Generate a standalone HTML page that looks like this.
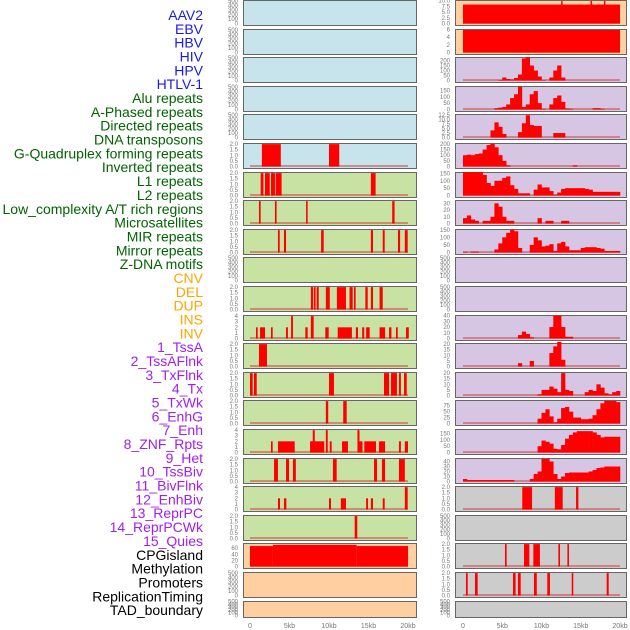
<!DOCTYPE html>
<html><head><meta charset="utf-8"><style>
body{margin:0;background:#fff;}
svg{display:block;font-family:"Liberation Sans",sans-serif;}
</style></head><body>
<svg id="chart" width="630" height="630" viewBox="0 0 630 630" xmlns="http://www.w3.org/2000/svg"></svg>
<script>
// ---------- data ----------
const labelNames = ["AAV2","EBV","HBV","HIV","HPV","HTLV-1","Alu repeats","A-Phased repeats","Directed repeats","DNA transposons","G-Quadruplex forming repeats","Inverted repeats","L1 repeats","L2 repeats","Low_complexity A/T rich regions","Microsatellites","MIR repeats","Mirror repeats","Z-DNA motifs","CNV","DEL","DUP","INS","INV","1_TssA","2_TssAFlnk","3_TxFlnk","4_Tx","5_TxWk","6_EnhG","7_Enh","8_ZNF_Rpts","9_Het","10_TssBiv","11_BivFlnk","12_EnhBiv","13_ReprPC","14_ReprPCWk","15_Quies","CPGisland","Methylation","Promoters","ReplicationTiming","TAD_boundary"];
const labelGroups = [6,13,5,15,5];
const xTickLabels = ["0","5kb","10kb","15kb","20kb"];
const xTickValues = [0,5,10,15,20];
const ticks500 = [0,100,200,300,400,500];
const ticks2 = [0,0.5,1,1.5,2];
const ticks4 = [0,1,2,3,4];

// left panels: segments [startKb, endKb, value]
const L5 = [[1.5,3.9,2],[10.0,11.3,2]];
const L6 = [[1.35,1.7,2],[1.9,2.5,2],[2.66,3.16,2],[3.25,4.0,2],[15.3,15.9,2]];
const L7 = [[1.14,1.35,2],[3.16,3.37,2],[7.1,7.3,2],[18.0,18.3,2]];
const L8 = [[3.54,3.76,2],[4.3,4.56,2],[9.0,9.33,2],[15.3,15.57,2],[16.8,17.05,2],[18.73,19.0,2],[19.6,19.96,2]];
const L10 = [[7.7,8.0,2],[8.1,8.3,2],[8.44,8.7,2],[9.6,10.1,2],[11.0,12.15,2],[12.6,13.0,2],[13.16,13.37,2],[14.6,14.9,2],[15.3,15.57,2],[16.4,16.8,2]];
const L11 = [[0.76,0.97,2],[1.27,1.9,2],[2.66,2.87,2],[4.56,4.8,2],[5.2,5.44,4],[7.0,7.3,2],[7.7,8.06,4],[9.53,9.96,2],[11.1,12.9,2],[13.4,13.67,2],[14.2,14.46,2],[14.7,15.15,2],[16.4,17.1,2],[17.6,17.9,2],[18.48,18.7,2],[19.75,20.1,2]];
const L12 = [[1.14,2.15,2]];
const L13 = [[0,0.34,2],[0.5,0.85,2],[10.0,10.63,2],[16.96,17.6,2],[17.85,18.6,2],[18.86,19.1,2],[19.5,19.84,2]];
const L14 = [[9.6,9.9,2],[11.8,12.24,2]];
const L15 = [[2.66,2.87,2],[3.54,5.66,2],[7.6,9.4,2],[7.94,8.2,4],[9.6,9.84,4],[10.1,10.34,2],[11.65,12.4,2],[13.6,13.86,4],[13.86,14.24,2],[14.47,15.95,2],[16.33,17.1,2],[18.86,19.1,2],[19.6,20.0,2]];
const L16 = [[3.04,3.54,2],[4.56,4.94,2],[5.44,5.8,2],[10.5,10.97,2],[15.7,16.08,2],[16.7,17.1,2],[18.86,19.6,2]];
const L17 = [[3.54,3.8,2],[4.3,4.6,2],[10.0,10.25,2],[11.5,12.15,2],[14.7,14.94,2],[15.3,15.57,2],[16.8,17.05,2],[19.6,19.96,4]];
const L18 = [[13.25,13.58,2]];
const L19 = [[0,2.9,67],[2.9,13.5,71],[13.5,20,67]];

// right panels: 0.5kb histogram bins (40 bins) or segments
const R0 = [[0,20,8.3],[12.5,12.65,10],[16.25,16.4,10],[17.95,18.1,10]];
const R1 = [[0,20,6]];
const R2 = [0,0,0,0,0,0,0,0,0,5,30,15,10,25,60,220,230,150,100,40,5,0,30,100,150,30,0,0,0,0,0,0,0,0,0,0,0,0,0,0];
const R3 = [0,0,0,0,0,0,0,0,10,15,20,40,90,120,180,20,40,120,145,50,5,0,40,90,110,60,8,5,0,0,0,0,0,10,10,5,0,0,0,0];
const R4 = [0,0,0,0,0,0,0,4,8.5,6,2,0,0,0,3,8,12.5,7,6.5,6.5,0,0,0,2.5,2.5,2.5,0,0,0,0,0,0,0,0,0,0,0,0,0,0];
const R5 = [100,105,100,110,115,150,190,200,170,100,50,10,0,0,0,0,0,0,0,0,0,0,0,0,0,0,0,0,10,0,0,0,0,0,0,0,0,0,0,0];
const R6 = [160,160,160,160,160,140,85,65,100,100,120,130,70,45,15,15,15,0,40,75,55,55,30,5,20,45,50,50,50,50,50,45,40,25,25,25,25,25,25,25];
const R7 = [8,12,6,4,0,4,4,10,30,25,10,4,4,0,0,0,0,0,0,8,0,4,4,0,0,4,4,0,0,0,0,0,0,0,0,0,0,0,0,0];
const R8 = [4,0,5,5,0,0,0,0,20,60,100,130,150,140,30,0,0,50,100,80,40,45,55,10,60,70,40,15,15,15,30,35,35,35,30,25,10,10,10,10];
const R11 = [0,0,0,0,0,0,0,0,0,0,0,0,0,0,6,12,8,2,0,0,0,0,20,40,40,20,3,3,0,0,0,0,0,0,0,0,0,0,0,0];
const R12 = [0,0,0,0,0,0,0,0,0,0,0,0,0,0,3,0,0,5,0,0,0,0,12,18,22,6,0,0,0,0,0,0,0,0,0,0,0,0,0,0];
const R13 = [0,0,0,0,0,0,0,0,0,0,0,0,0,0,0,0,0,0,0,1,5,5,8,6,3,20,5,4,0,0,0,3,5,4,10,7,2,1,3,4];
const R14 = [0,0,0,0,0,0,0,0,0,0,0,0,0,0,0,0,0,0,0,20,45,60,30,5,20,65,70,50,25,25,18,18,20,35,60,85,95,95,95,90];
const R15 = [0,0,0,0,0,0,0,0,0,0,0,0,0,0,0,0,0,0,0,50,95,85,70,30,25,60,110,140,160,170,170,170,170,160,140,120,125,125,125,125];
const R16 = [5,3,3,3,3,3,3,3,3,3,3,3,3,0,0,0,0,5,15,20,45,45,40,15,5,10,17,18,18,18,18,18,20,23,27,28,30,30,30,30];
const R17 = [[7.55,8.8,2],[11.7,12.7,2],[14.4,14.7,2]];
const R19 = [[5.35,5.56,2],[7.77,8.45,2],[8.96,9.8,2],[12.15,12.36,2],[13.3,13.5,2]];
const R20 = [[0.38,0.6,2],[1.53,1.87,2],[6.37,6.7,2],[7.0,7.35,2],[9.04,9.4,2],[10.74,11.08,2],[13.85,14.05,2],[18.3,18.56,2]];

// ---------- layout ----------
const BLUE="#c7e4ec", GREEN="#c8e2a3", ORANGE="#ffcf9f", LAV="#d6c6e3", GRAY="#cccccc";
const E = null;
const leftPanels = [
 [BLUE,E,ticks500,520],[BLUE,E,ticks500,520],[BLUE,E,ticks500,520],[BLUE,E,ticks500,520],[BLUE,E,ticks500,520],
 [BLUE,L5,ticks2,2.1],[GREEN,L6,ticks2,2.1],[GREEN,L7,ticks2,2.1],[GREEN,L8,ticks2,2.1],[GREEN,E,ticks500,520],
 [GREEN,L10,ticks2,2.1],[GREEN,L11,ticks4,4.2],[GREEN,L12,ticks2,2.1],[GREEN,L13,ticks2,2.1],[GREEN,L14,ticks2,2.1],
 [GREEN,L15,ticks4,4.2],[GREEN,L16,ticks2,2.1],[GREEN,L17,ticks4,4.2],[GREEN,L18,ticks2,2.1],[ORANGE,L19,[0,20,40,60],77],
 [ORANGE,E,ticks500,520],[ORANGE,E,ticks500,520]
];
const rightPanels = [
 [ORANGE,R0,[0,2.5,5,7.5,10],10.3,1],[ORANGE,R1,[0,2,4,6],6.1,1],
 [LAV,R2,[0,50,100,150,200],235,0],[LAV,R3,[0,50,100,150],185,0],[LAV,R4,[0,2.5,5,7.5,10,12.5],13.2,0],
 [LAV,R5,[0,50,100,150,200],208,0],[LAV,R6,[0,50,100,150],160,0],[LAV,R7,[0,10,20,30],35,0],
 [LAV,R8,[0,50,100,150],155,0],[LAV,E,ticks500,520,0],[LAV,E,ticks500,520,0],
 [LAV,R11,[0,10,20,30,40],41,0],[LAV,R12,[0,5,10,15,20],21,0],[LAV,R13,[0,5,10,15,20],21,0],
 [LAV,R14,[0,25,50,75],99,0],[LAV,R15,[0,50,100,150],187,0],[LAV,R16,[0,10,20,30,40],47,0],
 [GRAY,R17,ticks2,2.1,1],[GRAY,E,ticks500,520,0],[GRAY,R19,ticks2,2.1,1],[GRAY,R20,ticks2,2.1,1],[GRAY,E,ticks500,520,0]
];
const NS="http://www.w3.org/2000/svg";
const svg=document.getElementById('chart');
function mk(tag,attrs,parent){const e=document.createElementNS(NS,tag);for(const k in attrs)e.setAttribute(k,attrs[k]);(parent||svg).appendChild(e);return e;}
const xL = kb => 250 + kb*7.9;
const xR = kb => 463 + kb*7.85;
const rowY = i => Math.round(i*28.6);
const rowH = i => i===21 ? 16 : 25;
function fmt(t,ticks){const dec=ticks.some(v=>v%1!==0)?1:0;return dec?t.toFixed(1):String(t);}

// labels
const groupColors=["#1a1ae6","#006400","#ffa500","#a020f0","#000000"];
let gi=0,cnt=0;
labelNames.forEach((n,i)=>{
  while(cnt>=labelGroups[gi]){gi++;cnt=0;}
  cnt++;
  const t=mk('text',{x:203,y:15+i*13.84+5,'text-anchor':'end','font-size':14,fill:groupColors[gi]});
  t.textContent=n;
  
  
});

function drawPanel(i,cfg,side){
  const [bg,data,ticks,smax]=cfg;
  const x0 = side==='left'?243:455, x1 = side==='left'?416:626;
  const xs = side==='left'?xL:xR;
  const y0=rowY(i), h=rowH(i), yb=y0+h-1.5;
  const ys = v => yb - v/smax*(h-1.5);
  const g=mk('g',{});
  
  
  const bgR=mk('rect',{x:x0+0.5,y:y0+0.5,width:x1-x0,height:h,fill:bg,stroke:'#666','stroke-width':1},g);
  
  
  // ticks
  const tx = side==='left'?238:450;
  ticks.forEach(t=>{
    const tt=mk('text',{x:tx,y:ys(t)+2,'text-anchor':'end','font-size':6,fill:'#777'},g);
    tt.textContent=fmt(t,ticks);
    
    
  });
  if(!data) return;
  const bl=mk('line',{x1:xs(0),x2:xs(20),y1:yb-0.5,y2:yb-0.5,stroke:'rgba(210,70,70,0.55)','stroke-width':2},g);
  
  
  if(typeof data[0]==='number'){
    data.forEach((v,k)=>{
      if(v<=0) return;
      const r=mk('rect',{x:xs(k*0.5),y:ys(v),width:xs((k+1)*0.5)-xs(k*0.5)+0.3,height:yb-ys(v),fill:'#ff0000'},g);
      
      
    });
  } else {
    data.forEach(s=>{
      const r=mk('rect',{x:xs(s[0]),y:Math.max(ys(s[2]),y0+1),width:Math.max(xs(s[1])-xs(s[0]),1.5),height:yb-Math.max(ys(s[2]),y0+1),fill:'#ff0000'},g);
      
      
    });
  }
}
leftPanels.forEach((c,i)=>drawPanel(i,c,'left'));
rightPanels.forEach((c,i)=>drawPanel(i,c,'right'));

// x axes
[[xL,'left'],[xR,'right']].forEach(([xs,side])=>{
  xTickValues.forEach((v,k)=>{
    const t=mk('text',{x:xs(v),y:628,'text-anchor':'middle','font-size':7,fill:'#777'});
    t.textContent=xTickLabels[k];
    
    
  });
});
</script>
</body></html>
